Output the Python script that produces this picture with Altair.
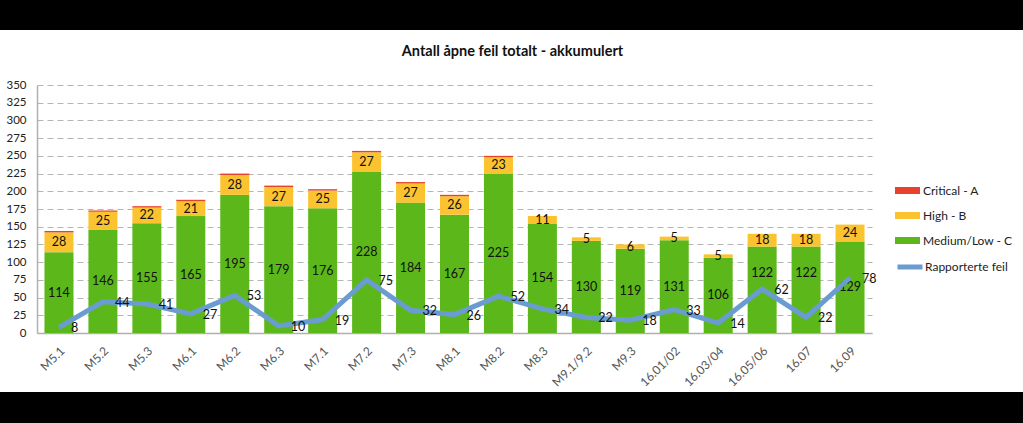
import altair as alt
import pandas as pd

cats = ["M5.1", "M5.2", "M5.3", "M6.1", "M6.2", "M6.3", "M7.1", "M7.2", "M7.3", "M8.1",
        "M8.2", "M8.3", "M9.1/9.2", "M9.3", "16.01/02", "16.03/04", "16.05/06", "16.07", "16.09"]
medium = [114, 146, 155, 165, 195, 179, 176, 228, 184, 167, 225, 154, 130, 119, 131, 106, 122, 122, 129]
high = [28, 25, 22, 21, 28, 27, 25, 27, 27, 26, 23, 11, 5, 6, 5, 5, 18, 18, 24]
critical = [2, 2, 2, 2, 2, 2, 2, 2, 2, 2, 2, 0, 0, 0, 0, 0, 0, 0, 0]
reported = [8, 44, 41, 27, 53, 10, 19, 75, 32, 26, 52, 34, 22, 18, 33, 14, 62, 22, 78]

series_names = ["Critical - A", "High - B", "Medium/Low - C"]
series_colors = ["#e8412c", "#fcc330", "#5cb81a"]
line_name = "Rapporterte feil"
line_color = "#6a9bd1"

rows = []
for i, c in enumerate(cats):
    rows.append({"cat": c, "series": "Medium/Low - C", "value": medium[i], "ord": 0})
    rows.append({"cat": c, "series": "High - B", "value": high[i], "ord": 1})
    rows.append({"cat": c, "series": "Critical - A", "value": critical[i], "ord": 2})
bars_df = pd.DataFrame(rows)
line_df = pd.DataFrame({"cat": cats, "value": reported, "series": [line_name] * len(cats)})

FONT = "Lato"

x_axis = alt.Axis(labelAngle=-45, labelFontSize=12, labelColor="#555555",
                  labelPadding=12, ticks=False, domainColor="#b0b0b0",
                  domainWidth=1.5, grid=False, labelFont=FONT, title=None)
x_scale = alt.Scale(paddingInner=0.34, paddingOuter=0.17)
y_scale = alt.Scale(domain=[0, 350], nice=False)
y_axis = alt.Axis(values=list(range(0, 351, 25)), labelFontSize=11.5, labelColor="#222222",
                  labelPadding=11, ticks=False, domainColor="#b0b0b0", domainWidth=1.5,
                  gridDash=[6, 4], gridColor="#b5b5b5", gridWidth=1.2, labelFont=FONT,
                  title=None)


def X():
    return alt.X("cat:N", sort=cats, scale=x_scale, axis=x_axis, title=None)


def Y(field):
    return alt.Y(field, scale=y_scale, axis=y_axis, title=None)


base = alt.Chart(bars_df).transform_stack(
    stack="value", groupby=["cat"], as_=["y0", "y1"], sort=[alt.SortField("ord", order="ascending")]
).transform_calculate(
    mid="(datum.y0 + datum.y1) / 2 + ((datum.series == 'Medium/Low - C' && (datum.cat == '16.05/06' || datum.cat == '16.07')) ? 24 : 0)"
)

bars = base.mark_bar().encode(
    x=X(),
    y=Y("y0:Q"),
    y2="y1:Q",
    color=alt.Color("series:N", scale=alt.Scale(domain=series_names, range=series_colors),
                    legend=alt.Legend(title=None, orient="none", legendX=858, legendY=93,
                                      symbolType="M-1,-0.28H1V0.28H-1Z", symbolSize=625,
                                      symbolStrokeWidth=0, labelFontSize=12, labelFont=FONT,
                                      labelColor="#222222", rowPadding=6, labelOffset=3)),
)

bar_text = base.transform_filter("datum.series != 'Critical - A' && datum.value > 0").mark_text(
    fontSize=12.5, font=FONT, color="#111111", baseline="middle"
).encode(
    x=X(),
    y=Y("mid:Q"),
    text="value:Q",
)

line = alt.Chart(line_df).mark_line(strokeWidth=5).encode(
    x=X(),
    y=Y("value:Q"),
    stroke=alt.Stroke("series:N", scale=alt.Scale(domain=[line_name], range=[line_color]),
                      legend=alt.Legend(title=None, orient="none", legendX=858, legendY=167,
                                        symbolType="stroke", symbolSize=625, symbolStrokeWidth=5,
                                        labelFontSize=12, labelFont=FONT, labelColor="#222222",
                                        labelOffset=0)),
)

line_text = alt.Chart(line_df).mark_text(
    fontSize=12.5, font=FONT, color="#111111", align="left", baseline="middle", dx=12, dy=1
).encode(
    x=X(),
    y=Y("value:Q"),
    text="value:Q",
)

band_data = pd.DataFrame({"k": [0]})
top_band = alt.Chart(band_data).mark_rect(color="black").encode(
    x=alt.value(-37), x2=alt.value(986), y=alt.value(-85), y2=alt.value(-55))
bottom_band = alt.Chart(band_data).mark_rect(color="black").encode(
    x=alt.value(-37), x2=alt.value(986), y=alt.value(307), y2=alt.value(338))

chart = alt.layer(bars, bar_text, line, line_text, top_band, bottom_band).resolve_scale(
    color="independent"
).properties(
    width=835, height=248,
    title=alt.Title("Antall åpne feil totalt - akkumulert", font=FONT, fontSize=14.5,
                    fontWeight="bold", color="#111111", frame="group", anchor="middle",
                    dx=58, dy=59, offset=0),
    autosize=alt.AutoSizeParams(type="none"),
    padding={"left": 37, "top": 85, "right": 151, "bottom": 90},
    background="white",
).configure_view(stroke=None)

chart.save("out.html", embed_options={"renderer": "svg", "actions": False})
